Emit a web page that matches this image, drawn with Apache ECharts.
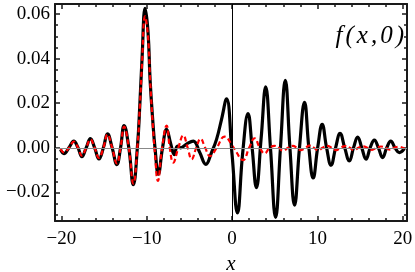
<!DOCTYPE html>
<html>
<head>
<meta charset="utf-8">
<script src="https://cdn.jsdelivr.net/npm/echarts@6/dist/echarts.min.js"></script>
<style>html,body{margin:0;padding:0;background:#fff}#c{width:415px;height:272px}</style>
</head>
<body>
<div id="c"></div>
<script>
// ---- data ----
var blackCurve = [
[-20.1,-0.0008],[-19.7,-0.0026],[-19.1,0.0002],[-18.55,0.0030],[-18.05,0.0],[-17.6,-0.0040],
[-17.1,0.0],[-16.6,0.0041],[-16.1,0.0],[-15.6,-0.0050],[-15.08,0.0],[-14.6,0.0063],[-14.05,0.0],
[-13.5,-0.0075],[-13.07,0.0],[-12.65,0.0100],[-12.1,0.0],[-11.57,-0.0165],[-11.1,0.0],[-10.8,0.0200],
[-10.55,0.0400],[-10.19,0.0626],[-9.85,0.0520],[-9.6,0.0300],[-9.25,0.0100],[-9.03,0.0],[-8.64,-0.0118],
[-8.15,0.0],[-7.67,0.0083],[-7.2,0.0020],[-6.77,-0.0030],[-6.4,0.0008],[-6.03,0.0],[-5.3,0.0018],
[-4.55,0.0030],[-3.8,-0.0020],[-3.07,-0.0074],[-2.4,-0.0020],[-1.82,0.0038],[-1.24,0.0127],[-0.65,0.0220],
[0.0,-0.0030],[0.63,-0.0292],[1.25,-0.0020],[1.87,0.0154],[2.35,0.0],[2.85,-0.0178],[3.4,0.0040],
[3.94,0.0273],[4.5,0.0],[5.1,-0.0312],[5.67,0.0],[6.24,0.0303],[6.78,0.0],[7.32,-0.0257],[7.9,0.0],
[8.49,0.0204],[9.0,0.0],[9.5,-0.0135],[10.03,0.0],[10.56,0.0105],[11.08,0.0],[11.6,-0.0078],[12.13,0.0],
[12.66,0.0065],[13.2,0.0],[13.75,-0.0059],[14.23,0.0],[14.72,0.0048],[15.2,0.0],[15.7,-0.0051],[16.18,0.0],
[16.67,0.0035],[17.15,0.0],[17.64,-0.0044],[18.12,0.0],[18.6,0.0030],[19.1,0.0],[19.6,-0.0021],[20.2,-0.0003]
];
var redCurve = [
[-20.1,-0.0005],[-19.7,-0.0020],[-19.1,0.0],[-18.55,0.0028],[-18.05,0.0],[-17.6,-0.0035],[-17.1,0.0],
[-16.6,0.0038],[-16.1,0.0],[-15.6,-0.0045],[-15.08,0.0],[-14.6,0.0060],[-14.05,0.0],[-13.5,-0.0070],
[-13.07,0.0],[-12.65,0.0095],[-12.1,0.0],[-11.57,-0.0160],[-11.1,0.0],[-10.8,0.0190],[-10.55,0.0380],
[-10.2,0.0590],[-9.85,0.0500],[-9.6,0.0300],[-9.25,0.0080],[-9.05,-0.0020],[-8.7,-0.0148],[-8.2,0.0],
[-7.67,0.0100],[-7.3,0.0],[-6.9,-0.0066],[-6.3,0.0],[-5.72,0.0056],[-5.2,0.0],[-4.74,-0.0051],[-4.2,0.0],
[-3.69,0.0041],[-3.15,0.0],[-2.6,-0.0037],[-1.8,0.0],[-0.9,0.0050],[0.2,0.0],[1.29,-0.0055],[2.0,0.0],
[2.65,0.0043],[3.25,0.0],[3.82,-0.0025],[4.4,0.0],[5.0,0.0009],[5.5,0.0],[5.97,-0.0013],[6.55,0.0],
[7.14,0.0009],[7.6,0.0],[8.1,-0.0010],[8.6,0.0],[9.07,0.0010],[9.6,0.0],[10.1,-0.0011],[10.6,0.0],
[11.15,0.0009],[11.7,0.0],[12.2,-0.0010],[12.7,0.0],[13.25,0.0008],[13.8,0.0],[14.3,-0.0010],[14.8,0.0],
[15.35,0.0007],[15.9,0.0],[16.4,-0.0009],[16.9,0.0],[17.45,0.0006],[18.0,0.0],[18.5,-0.0008],[19.0,0.0],
[19.55,0.0005],[20.2,-0.0003]
];
var xMajorTicks = [-20, -10, 0, 10, 20];
var xMinorTicks = [-20,-18,-16,-14,-12,-10,-8,-6,-4,-2,0,2,4,6,8,10,12,14,16,18,20];
var yMajorTicks = [-0.02, 0.00, 0.02, 0.04, 0.06];
var yMinorTicks = [-0.03,-0.025,-0.02,-0.015,-0.01,-0.005,0,0.005,0.01,0.015,0.02,0.025,0.03,0.035,0.04,0.045,0.05,0.055,0.06];
var xAxisTitle = 'x';
var plotLabel = 'f(x,0)';

// ---- chart ----
var X_MIN = -20.75, X_MAX = 20.5, Y_MIN = -0.0328, Y_MAX = 0.0645;
var FONT = '"Liberation Serif", "DejaVu Serif", serif';
var FRAME = '#1a1a1a';
function fmtNum(v, d) { var s = Math.abs(v).toFixed(d); return (v < -1e-12 ? '\u2212' : '') + s; }

function xAx(pos, vals, len, showLine, showLabel, extra) {
  var a = {
    type: 'value', position: pos, min: X_MIN, max: X_MAX,
    axisLine: { show: showLine, onZero: false, lineStyle: { color: FRAME, width: 2 } },
    axisTick: { show: true, inside: true, length: len, customValues: vals, lineStyle: { color: FRAME, width: 1.5 } },
    axisLabel: { show: showLabel, customValues: vals, color: '#000', fontFamily: FONT, fontSize: 19, margin: 9,
      formatter: function (v) { return fmtNum(v, 0); } },
    splitLine: { show: false }
  };
  for (var k in extra) a[k] = extra[k];
  return a;
}
function yAx(pos, vals, len, showLine, showLabel) {
  return {
    type: 'value', position: pos, min: Y_MIN, max: Y_MAX,
    axisLine: { show: showLine, onZero: false, lineStyle: { color: FRAME, width: 2 } },
    axisTick: { show: true, inside: true, length: len, customValues: vals, lineStyle: { color: FRAME, width: 1.5 } },
    axisLabel: { show: showLabel, customValues: vals, color: '#000', fontFamily: FONT, fontSize: 19, margin: 5,
      formatter: function (v) { return fmtNum(v, 2); } },
    splitLine: { show: false }
  };
}

var labelRich = plotLabel.split('').map(function (ch) { return '{g|' + ch + '}'; }).join('');

var chart = echarts.init(document.getElementById('c'), null, { renderer: 'canvas' });
chart.setOption({
  animation: false,
  grid: { left: 55, right: 8, top: 4, bottom: 51, containLabel: false, outerBoundsMode: 'none' },
  xAxis: [
    xAx('bottom', xMajorTicks, 5, true, true, { name: xAxisTitle, nameLocation: 'middle', nameGap: 29,
      nameTextStyle: { fontFamily: FONT, fontStyle: 'italic', fontSize: 21, color: '#000' } }),
    xAx('bottom', xMinorTicks, 3, false, false, {}),
    xAx('top', xMajorTicks, 5, true, false, {}),
    xAx('top', xMinorTicks, 3, false, false, {})
  ],
  yAxis: [
    yAx('left', yMajorTicks, 5, true, true),
    yAx('left', yMinorTicks, 3, false, false),
    yAx('right', yMajorTicks, 5, true, false),
    yAx('right', yMinorTicks, 3, false, false)
  ],
  graphic: [{
    type: 'text', right: 11, top: 24,
    style: {
      text: labelRich, fill: '#000',
      rich: { g: { fontFamily: FONT, fontStyle: 'italic', fontSize: 25, padding: [0, 1.5, 0, 1.5], fill: '#000' } }
    }
  }],
  series: [
    {
      type: 'line', data: blackCurve, smooth: 0.45, showSymbol: false, z: 3,
      lineStyle: { color: '#000', width: 3.2 },
      markLine: {
        silent: true, symbol: 'none', label: { show: false }, animation: false,
        data: [
          { xAxis: 0, lineStyle: { color: '#000', width: 1, type: 'solid' } },
          { yAxis: 0, lineStyle: { color: '#888', width: 1, type: 'solid' } }
        ]
      }
    },
    {
      type: 'line', data: redCurve, smooth: 0.45, showSymbol: false, z: 4,
      lineStyle: { color: '#ff0000', width: 2.2, type: [5, 3] }
    }
  ]
});
</script>
</body>
</html>
